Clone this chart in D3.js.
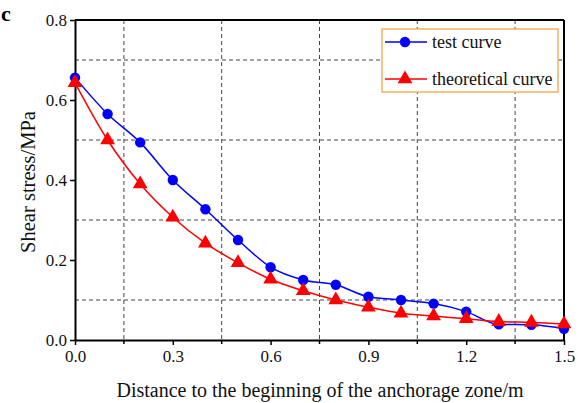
<!DOCTYPE html>
<html>
<head>
<meta charset="utf-8">
<script src="https://cdn.jsdelivr.net/npm/d3@7"></script>
<style>
  body { margin: 0; background: #fff; }
  svg text { font-family: "Liberation Serif", "Times New Roman", serif !important; }
</style>
</head>
<body>
<div id="chart"></div>
<script>
// data
const distance = [0, 0.1, 0.2, 0.3, 0.4, 0.5, 0.6, 0.7, 0.8, 0.9, 1.0, 1.1, 1.2, 1.3, 1.4, 1.5];
const testCurve = [0.656, 0.565, 0.494, 0.400, 0.327, 0.250, 0.182, 0.150, 0.138, 0.108, 0.100, 0.091, 0.071, 0.039, 0.038, 0.028];
const theoryCurve = [0.643, 0.500, 0.390, 0.307, 0.242, 0.193, 0.152, 0.123, 0.100, 0.082, 0.067, 0.060, 0.053, 0.046, 0.044, 0.040];
const xTicks = [0, 0.3, 0.6, 0.9, 1.2, 1.5];
const xMinor = [0.15, 0.45, 0.75, 1.05, 1.35];
const yTicks = [0, 0.2, 0.4, 0.6, 0.8];
const yMinor = [0.1, 0.3, 0.5, 0.7];

const serif = '"Liberation Serif", "Times New Roman", serif';
const margin = { top: 20, right: 20, bottom: 63, left: 75 };
const width = 584 - margin.left - margin.right;
const height = 403 - margin.top - margin.bottom;

const svg = d3.select('#chart')
  .append('svg')
  .attr('width', 584)
  .attr('height', 403)
  .attr('font-family', serif);

const g = svg.append('g')
  .attr('transform', `translate(${margin.left}, ${margin.top})`);

const x = d3.scaleLinear().domain([0, 1.5]).range([0, width]);
const y = d3.scaleLinear().domain([0, 0.8]).range([height, 0]);

// dashed grid at minor positions
g.selectAll('.xgrid')
  .data(xMinor)
  .join('line')
  .attr('x1', d => x(d)).attr('x2', d => x(d))
  .attr('y1', 0).attr('y2', height)
  .attr('stroke', '#444')
  .attr('stroke-width', 1)
  .attr('stroke-dasharray', '4,3');

g.selectAll('.ygrid')
  .data(yMinor)
  .join('line')
  .attr('x1', 0).attr('x2', width)
  .attr('y1', d => y(d)).attr('y2', d => y(d))
  .attr('stroke', '#444')
  .attr('stroke-width', 1)
  .attr('stroke-dasharray', '4,3');

// axes
const xAxis = g.append('g')
  .attr('transform', `translate(0, ${height})`)
  .call(d3.axisBottom(x).tickValues(xTicks).tickFormat(d3.format('.1f')).tickSize(5).tickPadding(5).tickSizeOuter(0));
xAxis.attr('font-family', serif);
xAxis.select('.domain').attr('stroke-width', 2);
xAxis.selectAll('.tick line').attr('stroke-width', 1.5);
xAxis.selectAll('.tick text').attr('font-size', 17).attr('fill', '#111');

const yAxis = g.append('g')
  .call(d3.axisLeft(y).tickValues(yTicks).tickFormat(d3.format('.1f')).tickSize(5).tickPadding(3).tickSizeOuter(0));
yAxis.attr('font-family', serif);
yAxis.select('.domain').attr('stroke-width', 2);
yAxis.selectAll('.tick line').attr('stroke-width', 1.5);
yAxis.selectAll('.tick text').attr('font-size', 17).attr('fill', '#111');

// minor ticks on bottom axis
g.selectAll('.xminor')
  .data(xMinor)
  .join('line')
  .attr('x1', d => x(d)).attr('x2', d => x(d))
  .attr('y1', height).attr('y2', height + 4)
  .attr('stroke', '#000').attr('stroke-width', 1.5);

// top and right frame
g.append('line')
  .attr('x1', 0).attr('x2', width).attr('y1', 0).attr('y2', 0)
  .attr('stroke', '#000').attr('stroke-width', 2);
g.append('line')
  .attr('x1', width).attr('x2', width).attr('y1', 0).attr('y2', height)
  .attr('stroke', '#000').attr('stroke-width', 2);

// lines
const series = [
  { values: testCurve, color: '#0000ff', marker: 'circle' },
  { values: theoryCurve, color: '#ff0000', marker: 'triangle' }
];

const line = d3.line()
  .x((d, i) => x(distance[i]))
  .y(d => y(d))
  .curve(d3.curveMonotoneX);

const circleSym = d3.symbol().type(d3.symbolCircle).size(85);
const triSym = d3.symbol().type(d3.symbolTriangle).size(95);

series.forEach(s => {
  g.append('path')
    .datum(s.values)
    .attr('fill', 'none')
    .attr('stroke', s.color)
    .attr('stroke-width', 1.5)
    .attr('d', line);

  g.append('g')
    .selectAll('path')
    .data(s.values)
    .join('path')
    .attr('transform', (d, i) => `translate(${x(distance[i])}, ${y(d)})`)
    .attr('d', s.marker === 'circle' ? circleSym : triSym)
    .attr('fill', s.color);
});

// legend
const legend = svg.append('g').attr('transform', 'translate(382, 29)');
legend.append('rect')
  .attr('width', 176).attr('height', 63)
  .attr('fill', '#fff')
  .attr('stroke', '#f7b060')
  .attr('stroke-width', 1.5);

const legendItems = [
  { label: 'test curve', color: '#0000ff', sym: circleSym, y: 13 },
  { label: 'theoretical curve', color: '#ff0000', sym: triSym, y: 50 }
];
legendItems.forEach(it => {
  legend.append('line')
    .attr('x1', 3).attr('x2', 45).attr('y1', it.y).attr('y2', it.y)
    .attr('stroke', it.color).attr('stroke-width', 1.5);
  legend.append('path')
    .attr('transform', `translate(23, ${it.y})`)
    .attr('d', it.sym)
    .attr('fill', it.color);
  legend.append('text')
    .attr('x', 50).attr('y', it.y + 6)
    .attr('font-size', 18)
    .attr('fill', '#111')
    .text(it.label);
});

// axis titles
svg.append('text')
  .attr('transform', 'translate(35, 182) rotate(-90)')
  .attr('text-anchor', 'middle')
  .attr('font-size', 20.5)
  .attr('fill', '#111')
  .text('Shear stress/MPa');

svg.append('text')
  .attr('x', 320).attr('y', 397)
  .attr('text-anchor', 'middle')
  .attr('font-size', 20)
  .attr('fill', '#111')
  .text('Distance to the beginning of the anchorage zone/m');

// panel letter
svg.append('text')
  .attr('x', 1).attr('y', 21)
  .attr('font-size', 22)
  .attr('font-weight', 'bold')
  .attr('fill', '#000')
  .text('c');
</script>
</body>
</html>
